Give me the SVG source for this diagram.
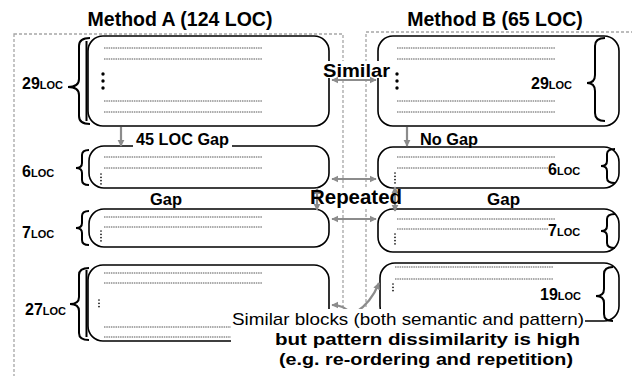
<svg xmlns="http://www.w3.org/2000/svg" width="632" height="376" viewBox="0 0 632 376">
<style>
.cont{fill:none;stroke:#a6a6a6;stroke-width:1.3;stroke-dasharray:3 2}
.box{fill:#fff;stroke:#000;stroke-width:1.6}
.br{fill:none;stroke:#000;stroke-width:2}
.dl{stroke:#555;stroke-width:1;stroke-dasharray:1.5 0.8}
.el{stroke:#000;stroke-linecap:round;fill:none;stroke-width:1.6;stroke-dasharray:0.1 3.2}
.ar{fill:none;stroke:#8c8c8c;stroke-width:2.2}
.t{font-family:"Liberation Sans",Arial,sans-serif;font-weight:bold;fill:#000}
.n{font-family:"Liberation Sans",Arial,sans-serif;fill:#000}
.bg{fill:#fff}
</style>
<defs>
<marker id="ah" viewBox="0 0 10 10" refX="9" refY="5" markerWidth="3.2" markerHeight="3.2" orient="auto-start-reverse" markerUnits="strokeWidth">
<path d="M0 0L10 5L0 10z" fill="#8c8c8c"/>
</marker>
</defs>

<rect class="cont" x="14" y="34" width="329" height="400"/>
<rect class="cont" x="366" y="32" width="300" height="400"/>

<text class="t" x="180" y="26" font-size="19.5" text-anchor="middle">Method A (124 LOC)</text>
<text class="t" x="495" y="26" font-size="19.5" text-anchor="middle">Method B (65 LOC)</text>

<g id="a1">
<rect class="box" x="88" y="36" width="241" height="90" rx="15"/>
<line class="br" x1="86.5" y1="41" x2="86.5" y2="121" stroke-width="1.6"/>
<path class="br" d="M90 38Q79 38 79 46L79 79Q79 87 68 87Q79 87 79 95L79 116Q79 124 90 124"/>
<line class="dl" x1="104" y1="48" x2="262" y2="48"/><line class="dl" x1="104" y1="59" x2="262" y2="59"/>
<line class="dl" x1="104" y1="101" x2="262" y2="101"/><line class="dl" x1="104" y1="112" x2="262" y2="112"/>
<circle cx="103" cy="74" r="1.7"/><circle cx="103" cy="81" r="1.7"/><circle cx="103" cy="88" r="1.7"/>
<text class="t" x="22" y="89"><tspan font-size="16">29</tspan><tspan font-size="11">LOC</tspan></text>
</g>

<g id="a2">
<rect class="box" x="89" y="146" width="240" height="42" rx="15"/>
<path class="br" d="M89 150Q82 150 82 155L82 163Q82 168 76 168Q82 168 82 173L82 180Q82 185 89 185"/>
<line class="dl" x1="104" y1="157" x2="262" y2="157"/><line class="dl" x1="104" y1="168" x2="262" y2="168"/>
<line class="el" x1="101" y1="174" x2="101" y2="185"/>
<text class="t" x="22" y="177"><tspan font-size="16">6</tspan><tspan font-size="11">LOC</tspan></text>
</g>

<g id="a3">
<rect class="box" x="89" y="209" width="240" height="38" rx="15"/>
<path class="br" d="M89 211Q82 211 82 216L82 223Q82 228 76 228Q82 228 82 233L82 240Q82 245 89 245"/>
<line class="dl" x1="104" y1="217" x2="262" y2="217"/><line class="dl" x1="104" y1="227" x2="262" y2="227"/>
<line class="el" x1="101" y1="231" x2="101" y2="243"/>
<text class="t" x="22" y="238"><tspan font-size="16">7</tspan><tspan font-size="11">LOC</tspan></text>
</g>

<g id="a4">
<rect class="box" x="88" y="265" width="241" height="76" rx="15"/>
<line class="br" x1="86.5" y1="270" x2="86.5" y2="337" stroke-width="1.6"/>
<path class="br" d="M89 268Q79 268 79 275L79 297Q79 304 70 304Q79 304 79 311L79 333Q79 340 89 340"/>
<line class="dl" x1="104" y1="273" x2="262" y2="273"/><line class="dl" x1="104" y1="283" x2="262" y2="283"/>
<line class="dl" x1="104" y1="327" x2="262" y2="327"/><line class="dl" x1="104" y1="337" x2="262" y2="337"/>
<line class="el" x1="99" y1="300" x2="99" y2="309"/>
<text class="t" x="25" y="315"><tspan font-size="16">27</tspan><tspan font-size="11">LOC</tspan></text>
</g>

<g id="b1">
<rect class="box" x="378" y="36" width="241" height="90" rx="15"/>
<path class="br" d="M605 38Q595 38 595 46L595 75Q595 83 587 83Q595 83 595 91L595 113Q595 121 605 121"/>
<line class="dl" x1="397" y1="48" x2="555" y2="48"/><line class="dl" x1="397" y1="59" x2="555" y2="59"/>
<line class="dl" x1="397" y1="101" x2="555" y2="101"/><line class="dl" x1="397" y1="112" x2="555" y2="112"/>
<circle cx="397" cy="74" r="1.7"/><circle cx="397" cy="81" r="1.7"/><circle cx="397" cy="88" r="1.7"/>
<text class="t" x="531" y="89"><tspan font-size="16">29</tspan><tspan font-size="11">LOC</tspan></text>
</g>

<g id="b2">
<rect class="box" x="378" y="147" width="241" height="41" rx="15"/>
<path class="br" d="M615 149Q607 149 607 154L607 161Q607 166 601 166Q607 166 607 171L607 178Q607 183 615 183"/>
<line class="dl" x1="397" y1="157" x2="555" y2="157"/><line class="dl" x1="397" y1="168" x2="548" y2="168"/>
<line class="el" x1="395" y1="173" x2="395" y2="184"/>
<text class="t" x="548" y="175"><tspan font-size="16">6</tspan><tspan font-size="11">LOC</tspan></text>
</g>

<g id="b3">
<rect class="box" x="378" y="209" width="241" height="43" rx="15"/>
<path class="br" d="M615 214Q607 214 607 219L607 226Q607 231 601 231Q607 231 607 236L607 243Q607 248 615 248"/>
<line class="dl" x1="397" y1="219" x2="555" y2="219"/><line class="dl" x1="397" y1="229" x2="548" y2="229"/>
<line class="el" x1="395" y1="234" x2="395" y2="246"/>
<text class="t" x="548" y="236"><tspan font-size="16">7</tspan><tspan font-size="11">LOC</tspan></text>
</g>

<g id="b4">
<rect class="box" x="380" y="263" width="239" height="58" rx="15"/>
<path class="br" d="M613 267Q604 267 604 274L604 289Q604 296 596 296Q604 296 604 303L604 314Q604 321 613 321"/>
<line class="dl" x1="395" y1="267" x2="553" y2="267"/><line class="dl" x1="395" y1="279" x2="553" y2="279"/>
<line class="el" x1="393" y1="284" x2="393" y2="293"/>
<text class="t" x="540" y="300"><tspan font-size="16">19</tspan><tspan font-size="11">LOC</tspan></text>
</g>

<rect class="bg" x="321" y="61" width="70" height="17"/>
<rect class="bg" x="133" y="130" width="99" height="18"/>
<rect class="bg" x="331" y="189" width="46" height="19"/>

<g id="connectors">
<line class="ar" x1="121" y1="127" x2="121" y2="146" marker-end="url(#ah)"/>
<line class="ar" x1="407" y1="127" x2="407" y2="146" marker-end="url(#ah)"/>
<line class="ar" x1="332" y1="80" x2="376" y2="80" marker-start="url(#ah)" marker-end="url(#ah)"/>
<line class="ar" x1="332" y1="179" x2="376" y2="179" marker-start="url(#ah)" marker-end="url(#ah)"/>
<line class="ar" x1="332" y1="219" x2="376" y2="219" marker-start="url(#ah)" marker-end="url(#ah)"/>
<line class="ar" x1="317" y1="188" x2="317" y2="210" marker-start="url(#ah)" marker-end="url(#ah)"/>
<line class="ar" x1="395" y1="187" x2="395" y2="211" marker-start="url(#ah)" marker-end="url(#ah)"/>
<path class="ar" d="M350 313Q344 305 332 305" marker-end="url(#ah)"/>
<path class="ar" d="M355 313Q371 303 379 283" marker-end="url(#ah)"/>
</g>

<text class="t" x="323" y="77" font-size="19" textLength="67" lengthAdjust="spacingAndGlyphs">Similar</text>
<text class="t" x="136" y="145" font-size="16" textLength="93" lengthAdjust="spacingAndGlyphs">45 LOC Gap</text>
<text class="t" x="420" y="145" font-size="16" textLength="58" lengthAdjust="spacingAndGlyphs">No Gap</text>
<text class="t" x="150" y="205" font-size="16" textLength="32" lengthAdjust="spacingAndGlyphs">Gap</text>
<text class="t" x="487" y="205" font-size="16" textLength="33" lengthAdjust="spacingAndGlyphs">Gap</text>
<text class="t" x="310" y="204" font-size="20" textLength="92" lengthAdjust="spacingAndGlyphs">Repeated</text>

<rect class="bg" x="231" y="309" width="354" height="67"/>
<text class="n" x="232" y="325" font-size="17" textLength="352" lengthAdjust="spacingAndGlyphs">Similar blocks (both semantic and pattern)</text>
<text class="t" x="275" y="345" font-size="17" textLength="305" lengthAdjust="spacingAndGlyphs">but pattern dissimilarity is high</text>
<text class="t" x="279" y="365" font-size="17" textLength="294" lengthAdjust="spacingAndGlyphs">(e.g. re-ordering and repetition)</text>
</svg>
